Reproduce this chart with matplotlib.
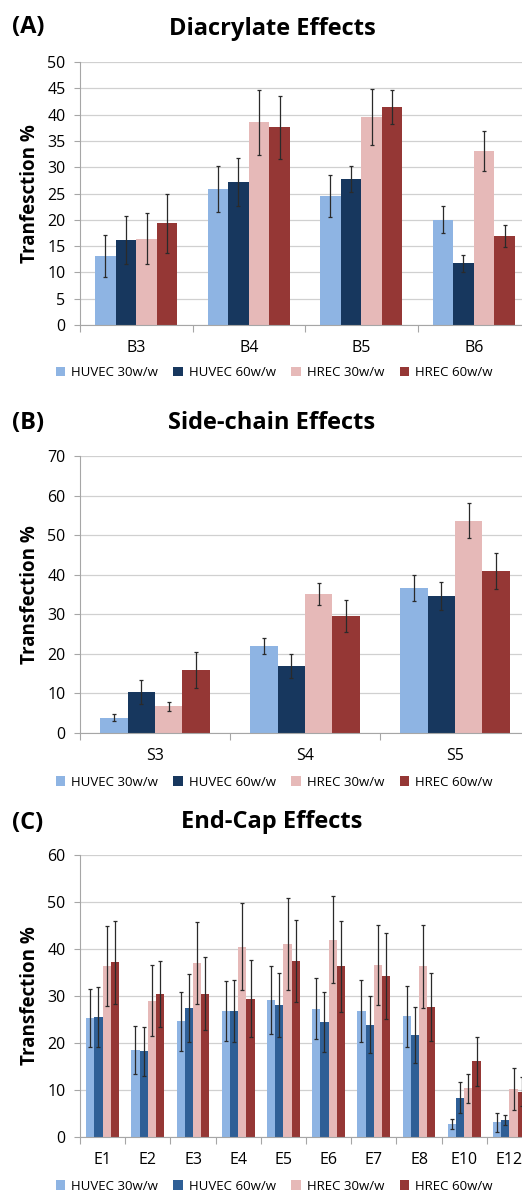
import numpy as np
import matplotlib
matplotlib.use('Agg')
import matplotlib.pyplot as plt

plt.rcParams['font.family'] = ['Open Sans', 'DejaVu Sans']

series_names = ['HUVEC 30w/w', 'HUVEC 60w/w', 'HREC 30w/w', 'HREC 60w/w']

# (A) Diacrylate effects
diacrylate_labels = ['B3', 'B4', 'B5', 'B6']
diacrylate_vals = [
    [13.1, 25.9, 24.6, 20.0],   # HUVEC 30w/w
    [16.2, 27.2, 27.7, 11.7],   # HUVEC 60w/w
    [16.4, 38.5, 39.6, 33.0],   # HREC 30w/w
    [19.3, 37.6, 41.5, 17.0],   # HREC 60w/w
]
diacrylate_err = [
    [4.0, 4.4, 4.0, 2.6],
    [4.6, 4.6, 2.5, 1.7],
    [4.8, 6.2, 5.3, 3.8],
    [5.6, 6.0, 3.2, 2.1],
]

# (B) Side-chain effects
sidechain_labels = ['S3', 'S4', 'S5']
sidechain_vals = [
    [3.9, 22.0, 36.7],
    [10.4, 17.0, 34.7],
    [6.7, 35.2, 53.6],
    [15.9, 29.5, 41.0],
]
sidechain_err = [
    [0.9, 2.0, 3.3],
    [3.0, 3.0, 3.5],
    [1.2, 2.8, 4.4],
    [4.5, 4.0, 4.5],
]

# (C) End-cap effects
endcap_labels = ['E1', 'E2', 'E3', 'E4', 'E5', 'E6', 'E7', 'E8', 'E10', 'E12']
endcap_vals = [
    [25.3, 18.5, 24.6, 26.8, 29.2, 27.3, 26.8, 25.7, 2.8, 3.1],
    [25.6, 18.2, 27.4, 26.8, 28.0, 24.4, 23.9, 21.7, 8.4, 3.6],
    [36.4, 29.0, 37.1, 40.5, 41.0, 42.0, 36.6, 36.3, 10.4, 10.2],
    [37.2, 30.5, 30.5, 29.4, 37.5, 36.3, 34.3, 27.7, 16.1, 9.6],
]
endcap_err = [
    [6.1, 5.1, 6.2, 6.3, 7.2, 6.5, 6.6, 6.5, 1.0, 2.1],
    [6.4, 5.3, 7.2, 6.5, 6.8, 6.4, 6.1, 5.9, 3.3, 1.1],
    [8.6, 7.5, 8.7, 9.2, 9.8, 9.3, 8.6, 8.8, 3.1, 4.5],
    [8.8, 7.0, 7.8, 8.2, 8.7, 9.6, 9.2, 7.2, 5.2, 3.1],
]

colors_ab = ['#8EB4E3', '#17375E', '#E6B9B8', '#953735']
colors_c = ['#8EB4E3', '#2F5F96', '#E6B9B8', '#953735']

W, H = 522.0, 1194.0
fig = plt.figure(figsize=(W / 100, H / 100), dpi=100)


def panel(rect, letter, title, ylabel, labels, vals, errs, colors, ymax, ystep,
          letter_y, title_y, legend_y):
    x0, y0, x1, y1 = rect
    ax = fig.add_axes([x0 / W, 1 - y1 / H, (x1 - x0) / W, (y1 - y0) / H])
    n = len(labels)
    x = np.arange(n)
    w = 0.73 / 4
    for i in range(4):
        ax.bar(x + (i - 1.5) * w, vals[i], w, yerr=errs[i], color=colors[i],
               label=series_names[i], zorder=2,
               error_kw=dict(ecolor='#2A2A2A', elinewidth=0.9, capsize=1.6,
                             capthick=0.9, zorder=3))
    ax.set_xlim(-0.5, n - 0.5)
    ax.set_ylim(0, ymax)
    ax.set_yticks(np.arange(0, ymax + 0.1, ystep))
    ax.set_xticks(x, labels)
    ax.set_xticks(np.arange(n + 1) - 0.5, minor=True)
    ax.tick_params(axis='x', which='major', length=0, pad=11, labelsize=11.5)
    ax.tick_params(axis='x', which='minor', length=5, color='#A6A6A6', width=0.8)
    ax.tick_params(axis='y', length=4.5, color='#A6A6A6', width=0.8, pad=6,
                   labelsize=11.5)
    ax.yaxis.grid(True, color='#D0D0D0', lw=0.9, zorder=0)
    ax.set_axisbelow(True)
    for s in ['top', 'right']:
        ax.spines[s].set_visible(False)
    for s in ['left', 'bottom']:
        ax.spines[s].set_color('#A6A6A6')
        ax.spines[s].set_linewidth(0.8)
    ax.set_ylabel(ylabel, fontsize=13.5, fontweight='bold')
    ax.yaxis.set_label_coords(40 / W, 1 - (y0 + y1) / 2 / H,
                              transform=fig.transFigure)
    fig.text(12 / W, 1 - letter_y / H, letter, fontsize=17, fontweight='bold',
             ha='left', va='center')
    fig.text(272 / W, 1 - title_y / H, title, fontsize=17, fontweight='bold',
             ha='center', va='center')
    handles, leg_labels = ax.get_legend_handles_labels()
    fig.legend(handles, leg_labels, loc='center', ncol=4,
               bbox_to_anchor=(274 / W, 1 - legend_y / H), frameon=False,
               fontsize=9.5, handlelength=0.7, handleheight=0.7,
               handletextpad=0.45, columnspacing=1.2, borderaxespad=0)
    return ax


panel((80, 62, 530, 325), '(A)', 'Diacrylate Effects', 'Tranfesction %',
      diacrylate_labels, diacrylate_vals, diacrylate_err, colors_ab, 50, 5,
      27, 29, 373)
panel((80, 456, 530, 733), '(B)', 'Side-chain Effects', 'Transfection %',
      sidechain_labels, sidechain_vals, sidechain_err, colors_ab, 70, 10,
      423, 423, 782)
panel((80, 855, 532, 1137), '(C)', 'End-Cap Effects', 'Transfection %',
      endcap_labels, endcap_vals, endcap_err, colors_c, 60, 10,
      823, 822, 1186)

fig.savefig('out.png', dpi=100)
